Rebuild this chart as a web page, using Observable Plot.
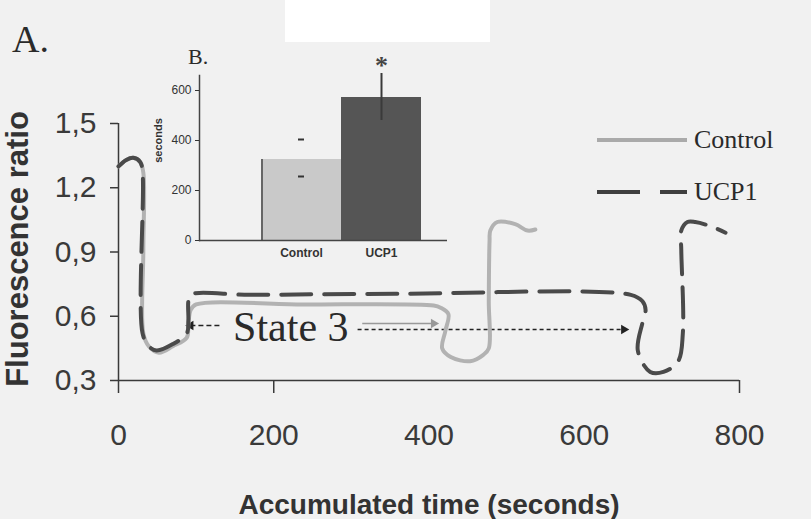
<!DOCTYPE html>
<html>
<head>
<meta charset="utf-8">
<script src="https://cdn.jsdelivr.net/npm/d3@7"></script>
<script src="https://cdn.jsdelivr.net/npm/@observablehq/plot@0.6"></script>
<style>
  html, body { margin: 0; padding: 0; background: #f1f1f1; }
  #wrap { position: relative; width: 811px; height: 519px; overflow: hidden; background: #f1f1f1; }
  #wrap > * { position: absolute; }
  #whitebox { left: 285px; top: 0; width: 205px; height: 42px; background: #fff; }
</style>
</head>
<body>
<div id="wrap"><div id="whitebox"></div></div>
<script>
// ---- Panel A data: accumulated time (s) vs fluorescence ratio ----
const controlT = [0, 10, 19, 28, 32, 32, 32, 39, 52, 70, 88, 90, 93, 100, 234, 406, 415, 425, 421, 417, 428, 453, 470, 477, 477, 478, 479, 488, 511, 527, 537];
const controlV = [1.30, 1.33, 1.34, 1.32, 1.27, 0.91, 0.52, 0.46, 0.43, 0.46, 0.50, 0.56, 0.63, 0.655, 0.655, 0.65, 0.64, 0.61, 0.53, 0.45, 0.41, 0.39, 0.42, 0.45, 0.67, 0.95, 1.00, 1.04, 1.03, 1.00, 1.005];
const ucp1T = [0, 10, 19, 28, 31, 31, 39, 49, 70, 88, 90, 90, 93, 170, 363, 660, 675, 679, 675, 669, 685, 702, 721, 727, 725, 725, 733, 743, 763, 782];
const ucp1V = [1.30, 1.33, 1.34, 1.32, 1.27, 0.52, 0.46, 0.44, 0.47, 0.52, 0.58, 0.67, 0.70, 0.70, 0.705, 0.70, 0.67, 0.63, 0.57, 0.44, 0.34, 0.34, 0.39, 0.52, 0.91, 1.00, 1.04, 1.04, 1.02, 0.99];
const yTicks = [0.3, 0.6, 0.9, 1.2, 1.5];
const xTickLabels = [0, 200, 400, 600, 800];
const xTickMarks = [0, 200, 800];

// "State 3" annotation (data units)
const stateLabel = "State 3";
const stateLabelT = 222, stateLabelV = 0.547;
const arrowFromT = [130, 314, 308];
const arrowToT = [93, 406, 651];
const arrowV = [0.557, 0.566, 0.538];

// ---- Panel B data: duration of state 3 (seconds) ----
const barGroups = ["Control", "UCP1"];
const barValues = [324, 572];
const errLow = [256, 480];
const errHigh = [404, 668];
const insetTicks = [0, 200, 400, 600];

const sans = "'Liberation Sans', Arial, sans-serif";
const serif = "'Liberation Serif', 'Times New Roman', serif";

const controlData = controlT.map((t, i) => ({t, v: controlV[i]}));
const ucp1Data = ucp1T.map((t, i) => ({t, v: ucp1V[i]}));
const arrows = arrowFromT.map((t, i) => ({x1: t, x2: arrowToT[i], y: arrowV[i]}));
const arrowStyles = [
  {stroke: "#222", dash: "5,3", rot: -90},
  {stroke: "#999", dash: null, rot: 90},
  {stroke: "#222", dash: "4,3", rot: 90}
];
const arrowMarks = arrows.flatMap((a, i) => {
  const s = arrowStyles[i];
  return [
    Plot.link([a], {x1: "x1", x2: "x2", y1: "y", y2: "y", stroke: s.stroke, strokeDasharray: s.dash, strokeWidth: 1.6}),
    Plot.dot([a], {x: "x2", y: "y", symbol: "triangle2", r: 4.5, fill: s.stroke, rotate: s.rot})
  ];
});
const fmtComma = d => d.toFixed(1).replace(".", ",");

const main = Plot.plot({
  width: 811, height: 519,
  marginLeft: 118, marginRight: 72, marginTop: 123, marginBottom: 139,
  style: {background: "transparent", fontFamily: sans, color: "#3a3a3a", overflow: "visible"},
  x: {domain: [0, 800], label: null},
  y: {domain: [0.3, 1.5], label: null},
  marks: [
    Plot.ruleY([0.3], {stroke: "#3a3a3a", strokeWidth: 1.5}),
    Plot.ruleX([0], {stroke: "#3a3a3a", strokeWidth: 1.5}),
    Plot.axisY({ticks: yTicks, tickSize: 8, tickPadding: 14, fontSize: 30, tickFormat: fmtComma, strokeWidth: 1.5}),
    Plot.axisX({ticks: xTickLabels, tickSize: 0, tickPadding: 43, fontSize: 30, tickFormat: d3.format("d")}),
    Plot.axisX({ticks: xTickMarks, tickSize: 13, tickPadding: 0, tickFormat: () => "", strokeWidth: 1.5}),
    Plot.text(["Accumulated time (seconds)"], {frameAnchor: "bottom", dy: 125, textAnchor: "middle", lineAnchor: "middle", fontSize: 28, fontWeight: "bold", fill: "#333"}),
    Plot.text(["Fluorescence ratio"], {frameAnchor: "left", rotate: -90, dx: -100, dy: -3, textAnchor: "middle", lineAnchor: "middle", fontSize: 31, fontWeight: "bold", fill: "#333"}),
    ...arrowMarks,
    Plot.text([stateLabel], {x: () => stateLabelT, y: () => stateLabelV, fontFamily: serif, fontSize: 42, fill: "#2a2a2a", lineAnchor: "middle"}),
    Plot.line(controlData, {x: "t", y: "v", stroke: "#b2b2b2", strokeWidth: 4, curve: "catmull-rom", strokeLinejoin: "round"}),
    Plot.line(ucp1Data, {x: "t", y: "v", stroke: "#4a4a4a", strokeWidth: 4, strokeDasharray: "30,13", curve: "catmull-rom", strokeLinejoin: "round"})
  ]
});
main.style.left = "0px"; main.style.top = "0px";
document.getElementById("wrap").appendChild(main);

const bars = barGroups.map((g, i) => ({group: g, value: barValues[i], lo: errLow[i], hi: errHigh[i]}));
const ctrl = bars.filter(d => d.group === "Control");
const ucp = bars.filter(d => d.group === "UCP1");
const inset = Plot.plot({
  width: 300, height: 225,
  marginLeft: 49, marginRight: 3, marginTop: 35, marginBottom: 25,
  style: {background: "transparent", fontFamily: sans, color: "#333", overflow: "visible"},
  x: {type: "band", domain: barGroups, range: [111, 271], padding: 0, label: null},
  y: {domain: [0, 660], label: null},
  color: {domain: barGroups, range: ["#c9c9c9", "#555555"]},
  marks: [
    Plot.barY(bars, {x: "group", y: "value", fill: "group"}),
    Plot.ruleX(ctrl, {x: "group", y1: 0, y2: "value", dx: -39.5, stroke: "#444", strokeWidth: 1.5}),
    Plot.ruleX(ucp, {x: "group", y1: "lo", y2: "hi", stroke: "#3a3a3a", strokeWidth: 2}),
    Plot.tickY(ctrl, {x: "group", y: "lo", insetLeft: 37, insetRight: 37, stroke: "#333", strokeWidth: 2}),
    Plot.tickY(ctrl, {x: "group", y: "hi", insetLeft: 37, insetRight: 37, stroke: "#333", strokeWidth: 2}),
    Plot.text(ucp, {x: "group", y: "hi", text: () => "*", dy: -8, fontFamily: serif, fontSize: 26, fontWeight: "bold", fill: "#444", lineAnchor: "middle"}),
    Plot.ruleY([0], {stroke: "#444", strokeWidth: 1.5}),
    Plot.frame({anchor: "left", stroke: "#444", strokeWidth: 1.5}),
    Plot.axisY({ticks: insetTicks, tickSize: 4, tickPadding: 4, fontSize: 12, tickFormat: d3.format("d")}),
    Plot.axisX({tickSize: 0, tickPadding: 8, fontSize: 12, fontWeight: "bold"}),
    Plot.text(["seconds"], {frameAnchor: "left", rotate: -90, dx: -41, dy: -17.5, textAnchor: "middle", lineAnchor: "middle", fontSize: 11, fontWeight: "bold", fill: "#333"})
  ]
});
inset.style.left = "150px"; inset.style.top = "40px";
document.getElementById("wrap").appendChild(inset);

// Panel labels and legend
const over = d3.select("#wrap").append("svg")
  .attr("width", 811).attr("height", 519)
  .style("left", "0px").style("top", "0px").style("pointer-events", "none");
over.append("text").attr("x", 12).attr("y", 52).attr("font-family", serif).attr("font-size", 38).attr("fill", "#2a2a2a").text("A.");
over.append("text").attr("x", 188).attr("y", 64).attr("font-family", serif).attr("font-size", 22).attr("fill", "#2a2a2a").text("B.");
const legendItems = [
  {label: "Control", stroke: "#aaaaaa", dash: null, y: 140},
  {label: "UCP1", stroke: "#3f3f3f", dash: "43,20", y: 192}
];
legendItems.forEach(d => {
  over.append("line").attr("x1", 597).attr("x2", 687).attr("y1", d.y).attr("y2", d.y)
    .attr("stroke", d.stroke).attr("stroke-width", 4).attr("stroke-dasharray", d.dash);
  over.append("text").attr("x", 694).attr("y", d.y + 8).attr("font-family", serif).attr("font-size", 26).attr("fill", "#2a2a2a").text(d.label);
});
</script>
</body>
</html>
